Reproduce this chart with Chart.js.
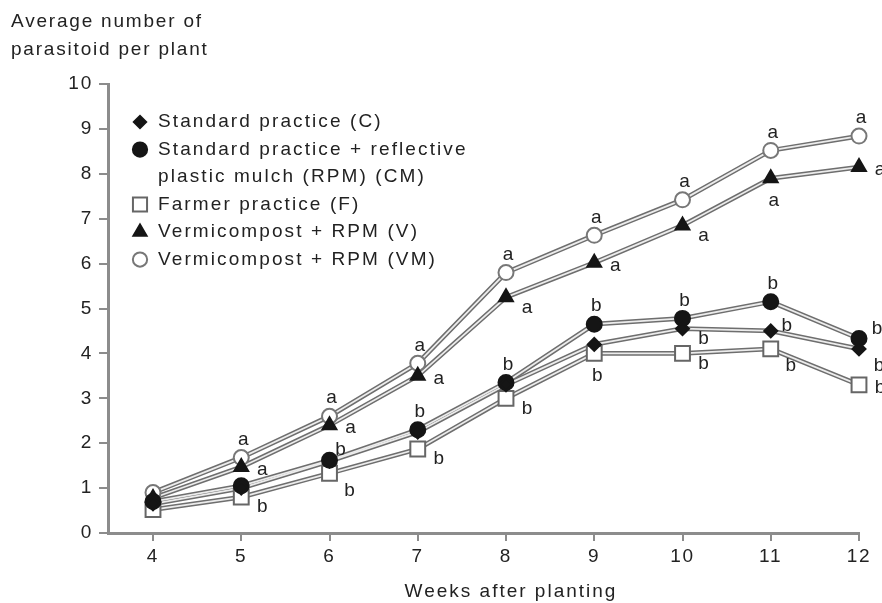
<!DOCTYPE html>
<html>
<head>
<meta charset="utf-8">
<script src="https://cdn.jsdelivr.net/npm/chart.js@4.4.1/dist/chart.umd.min.js"></script>
<style>
    body { margin: 0; background: #fff; }
    #wrap { width: 882px; height: 603px; }
</style>
</head>
<body>
<div id="wrap"><canvas id="parasitoides" width="882" height="603"></canvas></div>
<script>
const semanas = [4, 5, 6, 7, 8, 9, 10, 11, 12];
const ticksY = [0, 1, 2, 3, 4, 5, 6, 7, 8, 9, 10];

const serieC = [0.65, 1.0, 1.6, 2.25, 3.3, 4.2, 4.55, 4.5, 4.1];
const serieCM = [0.7, 1.05, 1.62, 2.3, 3.35, 4.65, 4.78, 5.15, 4.33];
const serieF = [0.52, 0.8, 1.33, 1.87, 3.0, 4.0, 4.0, 4.1, 3.3];
const serieV = [0.78, 1.47, 2.4, 3.5, 5.25, 6.02, 6.85, 7.9, 8.15];
const serieVM = [0.9, 1.68, 2.6, 3.78, 5.8, 6.63, 7.42, 8.52, 8.84];

// letras de significancia (null = sin letra)
const letrasC = [null, null, null, null, null, null, "b", "b", "b"];
const letrasCM = [null, null, "b", "b", "b", "b", "b", "b", "b"];
const letrasF = [null, "b", "b", "b", "b", "b", "b", "b", "b"];
const letrasV = [null, "a", "a", "a", "a", "a", "a", "a", "a"];
const letrasVM = [null, "a", "a", "a", "a", "a", "a", "a", "a"];

// donde va cada letra respecto al punto
const lugarC = [null, null, null, null, null, null, "br", "ru", "bbr"];
const lugarCM = [null, null, "tr", "t", "t", "t", "t", "t", "rt"];
const lugarF = [null, "br", "bbr", "br", "br", "b", "br", "bbr", "r"];
const lugarV = [null, "r", "r", "r", "br", "r", "br", "b", "r"];
const lugarVM = [null, "t", "t", "t", "t", "t", "t", "t", "t"];

const desplazamientos = {
    t: [2, -18],
    tr: [11, -10],
    rt: [18, -10],
    ru: [16, -5],
    r: [21, 3],
    br: [21, 10],
    bbr: [20, 17],
    b: [3, 22],
};

const leyenda = [
    ["Standard practice (C)"],
    ["Standard practice + reflective", "plastic mulch (RPM) (CM)"],
    ["Farmer practice (F)"],
    ["Vermicompost + RPM (V)"],
    ["Vermicompost + RPM (VM)"],
];

const fuente = "'Liberation Sans', Arial, sans-serif";
const negro = "#151515";
const grisLinea = "#6e6e6e";
const grisEje = "#8c8c8c";

const series = [
    { nombre: "C", datos: serieC, letras: letrasC, lugar: lugarC, estilo: "rectRot", radio: 6.5, relleno: negro, borde: negro },
    { nombre: "CM", datos: serieCM, letras: letrasCM, lugar: lugarCM, estilo: "circle", radio: 7.5, relleno: negro, borde: negro },
    { nombre: "F", datos: serieF, letras: letrasF, lugar: lugarF, estilo: "rect", radio: 10.5, relleno: "#fff", borde: "#666" },
    { nombre: "V", datos: serieV, letras: letrasV, lugar: lugarV, estilo: "triangle", radio: 8, relleno: negro, borde: negro },
    { nombre: "VM", datos: serieVM, letras: letrasVM, lugar: lugarVM, estilo: "circle", radio: 7.5, relleno: "#fff", borde: "#777" },
];

const puntos = (arr) => semanas.map((s, i) => ({ x: s, y: arr[i] }));

const datasets = [];
series.forEach((s) => {
    // linea "doble": trazo gris ancho + centro claro
    datasets.push({
        label: s.nombre + "-borde",
        data: puntos(s.datos),
        borderColor: grisLinea,
        borderWidth: 4.8,
        pointRadius: 0,
        order: 3,
        clip: false,
    });
    datasets.push({
        label: s.nombre + "-centro",
        data: puntos(s.datos),
        borderColor: "#ececec",
        borderWidth: 1.8,
        pointRadius: 0,
        order: 2,
        clip: false,
    });
    datasets.push({
        label: s.nombre,
        data: puntos(s.datos),
        showLine: false,
        pointStyle: s.estilo,
        pointRadius: s.radio,
        pointBackgroundColor: s.relleno,
        pointBorderColor: s.borde,
        pointBorderWidth: 2,
        order: 1,
        clip: false,
    });
});

const espaciado = {
    id: "espaciado",
    beforeDraw(chart) {
        chart.ctx.letterSpacing = "1.8px";
    },
};

const letras = {
    id: "letras",
    afterDatasetsDraw(chart) {
        const ctx = chart.ctx;
        const x = chart.scales.x;
        const y = chart.scales.y;
        ctx.save();
        ctx.letterSpacing = "0px";
        ctx.font = "19px " + fuente;
        ctx.fillStyle = "#222";
        ctx.textAlign = "center";
        ctx.textBaseline = "middle";
        series.forEach((s) => {
            s.letras.forEach((l, i) => {
                if (!l) return;
                const d = desplazamientos[s.lugar[i]];
                ctx.fillText(l, x.getPixelForValue(semanas[i]) + d[0], y.getPixelForValue(s.datos[i]) + d[1]);
            });
        });
        ctx.restore();
    },
};

const textos = {
    id: "textos",
    afterDraw(chart) {
        const ctx = chart.ctx;
        ctx.save();
        ctx.letterSpacing = "1.8px";
        ctx.font = "19px " + fuente;
        ctx.fillStyle = "#222";
        ctx.textBaseline = "middle";

        // titulo eje y (horizontal, arriba a la izquierda)
        ctx.textAlign = "left";
        ctx.fillText("Average number of", 11, 22);
        ctx.fillText("parasitoid per plant", 11, 50);

        // titulo eje x
        ctx.textAlign = "center";
        ctx.letterSpacing = "2px";
        ctx.fillText("Weeks after planting", 511, 592);

        // leyenda dentro del grafico
        ctx.letterSpacing = "2.1px";
        ctx.textAlign = "left";
        let fila = 122;
        leyenda.forEach((lineas, i) => {
            const s = series[i];
            ctx.fillStyle = s.relleno;
            ctx.strokeStyle = s.borde;
            ctx.lineWidth = 2;
            Chart.helpers.drawPoint(ctx, { pointStyle: s.estilo, radius: s.radio * 0.95, borderWidth: 2 }, 140, fila);
            ctx.fillStyle = "#222";
            lineas.forEach((t) => {
                ctx.fillText(t, 158, fila);
                fila += 27.5;
            });
        });
        ctx.restore();
    },
};

new Chart(document.getElementById("parasitoides"), {
    type: "line",
    data: { datasets: datasets },
    options: {
        responsive: false,
        animation: false,
        layout: { padding: { top: 84, right: 23, left: 0, bottom: 0 } },
        font: { family: fuente, size: 19 },
        scales: {
            x: {
                type: "linear",
                min: 3.49,
                max: 12,
                afterFit: (scale) => { scale.height = 70; },
                afterBuildTicks: (scale) => { scale.ticks = semanas.map((v) => ({ value: v })); },
                grid: { drawOnChartArea: false, drawTicks: true, tickLength: 8, color: grisEje, lineWidth: 2 },
                border: { color: grisEje, width: 3 },
                ticks: { color: "#222", padding: 4, font: { family: fuente, size: 19 } },
            },
            y: {
                min: 0,
                max: 10,
                afterFit: (scale) => { scale.width = 108; },
                afterBuildTicks: (scale) => { scale.ticks = ticksY.map((v) => ({ value: v })); },
                grid: { drawOnChartArea: false, drawTicks: true, tickLength: 9, color: grisEje, lineWidth: 2 },
                border: { color: grisEje, width: 3 },
                ticks: { color: "#222", padding: 6, font: { family: fuente, size: 19 } },
            },
        },
        plugins: {
            legend: { display: false },
            tooltip: { enabled: false },
        },
    },
    plugins: [espaciado, letras, textos],
});
</script>
</body>
</html>
